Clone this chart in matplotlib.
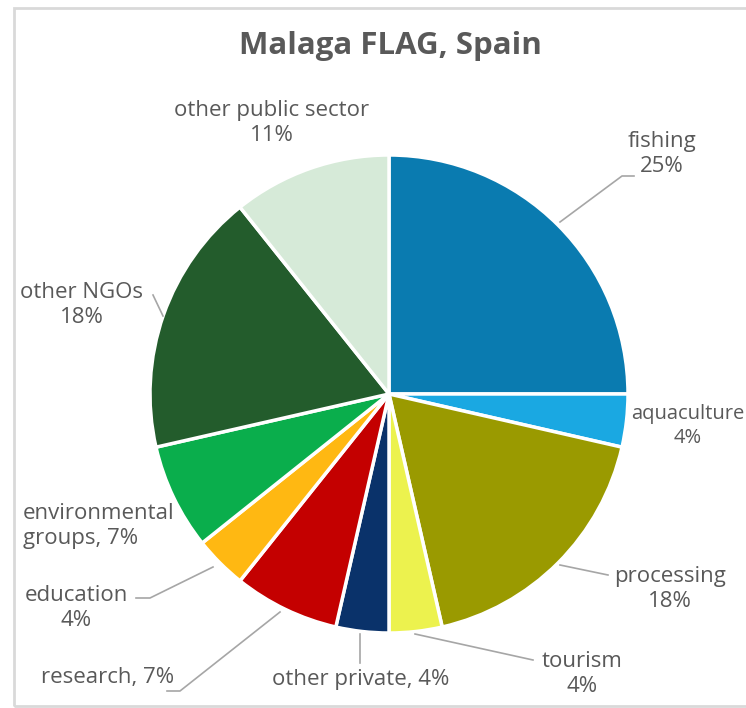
import matplotlib.pyplot as plt
from matplotlib.patches import Rectangle

# FLAG partnership members by sector (clockwise from 12 o'clock)
sectors = ["fishing", "aquaculture", "processing", "tourism", "other private",
           "research", "education", "environmental groups", "other NGOs",
           "other public sector"]
members = [7, 1, 5, 1, 1, 2, 1, 2, 5, 3]
colors = ["#0A7BB0", "#1AA8E2", "#9A9A00", "#ECF24E", "#0A326A",
          "#C40000", "#FFB812", "#0AAE4C", "#235C2C", "#D6EAD8"]

W, H = 746, 708
plt.rcParams["font.family"] = ["Open Sans", "DejaVu Sans"]
fig = plt.figure(figsize=(W / 100, H / 100), dpi=100)
ax = fig.add_axes([0, 0, 1, 1])

txt = "#595959"

# chart frame
ax.add_patch(Rectangle((14, H - 706), 760, 698, fill=False,
                       edgecolor="#D9D9D9", lw=2))

ax.pie(members, colors=colors, startangle=90, counterclock=False,
       center=(389, H - 394), radius=239, frame=True,
       wedgeprops=dict(edgecolor="white", linewidth=2.5))
ax.set_xlim(0, W)
ax.set_ylim(0, H)
ax.axis("off")

ax.text(390, H - 46, "Malaga FLAG, Spain", ha="center", va="center",
        fontsize=22.5, fontweight="bold", color=txt)

total = sum(members)
pct = [f"{round(100 * m / total)}%" for m in members]

# label text, anchor (px from top-left), alignment, size
labels = [
    (f"fishing\n{pct[0]}", (662, 154), "center", 16),
    (f"aquaculture\n{pct[1]}", (688, 426), "center", 14.5),
    (f"processing\n{pct[2]}", (670, 589), "center", 16),
    (f"tourism\n{pct[3]}", (582, 674), "center", 16),
    (f"other private, {pct[4]}", (361, 680), "center", 16),
    (f"research, {pct[5]}", (108, 677), "center", 16),
    (f"education\n{pct[6]}", (76, 608), "center", 16),
    (f"environmental\ngroups, {pct[7]}", (23, 526), "left", 16),
    (f"other NGOs\n{pct[8]}", (82, 305), "center", 16),
    (f"other public sector\n{pct[9]}", (272, 123), "center", 16),
]
for s, (x, y), al, fs in labels:
    ax.text(x, H - y, s, ha="center" if al == "center" else "left",
            va="center", multialignment=al, fontsize=fs, color=txt,
            linespacing=1.22)

# leader lines
leaders = [
    [(560, 222), (622, 176), (634, 176)],
    [(560, 565), (608, 575)],
    [(415, 634), (533, 660)],
    [(360, 634), (360, 663)],
    [(280, 612), (180, 691), (167, 691)],
    [(213, 567), (150, 598), (136, 598)],
    [(163, 316), (153, 295)],
]
for pts in leaders:
    xs = [p[0] for p in pts]
    ys = [H - p[1] for p in pts]
    ax.plot(xs, ys, color="#A6A6A6", lw=1.2)

fig.savefig("out.png", dpi=100)
